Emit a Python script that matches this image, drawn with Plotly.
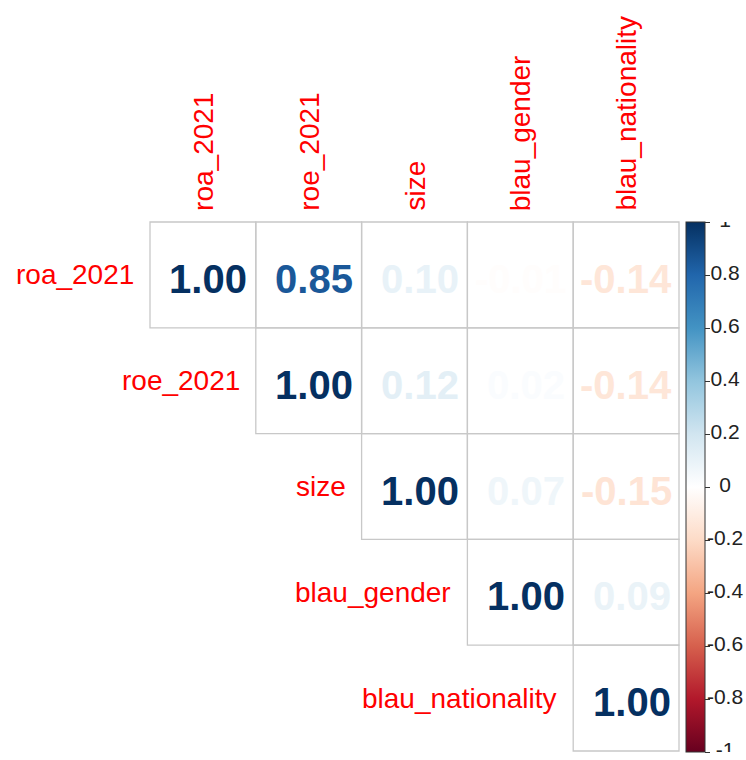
import plotly.graph_objects as go

# ---------------- data ----------------
variables = ["roa_2021", "roe_2021", "size", "blau_gender", "blau_nationality"]
row_roa = [1.00, 0.85, 0.10, -0.01, -0.14]
row_roe = [None, 1.00, 0.12, 0.02, -0.14]
row_size = [None, None, 1.00, 0.07, -0.15]
row_gender = [None, None, None, 1.00, 0.09]
row_nationality = [None, None, None, None, 1.00]
corr_rows = [row_roa, row_roe, row_size, row_gender, row_nationality]

cbar_ticks = [1, 0.8, 0.6, 0.4, 0.2, 0, -0.2, -0.4, -0.6, -0.8, -1]
cbar_labels = ["1", "0.8", "0.6", "0.4", "0.2", "0", "-0.2", "-0.4", "-0.6", "-0.8", "-1"]

# corrplot COL2('RdBu') palette
palette = ["#67001F", "#B2182B", "#D6604D", "#F4A582", "#FDDBC7", "#FFFFFF",
           "#D1E5F0", "#92C5DE", "#4393C3", "#2166AC", "#053061"]

# ---------------- helpers ----------------
n_pal = len(palette)
colorscale = [[k / (n_pal - 1), c] for k, c in enumerate(palette)]


def hex2rgb(h):
    h = h.lstrip("#")
    return tuple(int(h[k:k + 2], 16) for k in (0, 2, 4))


def value_color(v):
    t = (v + 1) / 2 * (n_pal - 1)
    k = min(int(t), n_pal - 2)
    f = t - k
    a, b = hex2rgb(palette[k]), hex2rgb(palette[k + 1])
    r, g, bl = (round(a[m] + (b[m] - a[m]) * f) for m in range(3))
    return f"rgb({r},{g},{bl})"


def fmt(v):
    s = f"{v:.2f}"
    return s if v < 0 else "\u00a0" + s


FONT = "Liberation Sans, Arial, sans-serif"
n = len(variables)

xs, ys, vals = [], [], []
shapes = []
annotations = []
for i, row in enumerate(corr_rows):
    for j, v in enumerate(row):
        if v is None:
            continue
        xs.append(j)
        ys.append(i)
        vals.append(v)
        shapes.append(dict(type="rect", xref="x", yref="y",
                           x0=j - 0.5, x1=j + 0.5, y0=i - 0.5, y1=i + 0.5,
                           line=dict(color="#C8C8C8", width=1.3),
                           fillcolor="rgba(0,0,0,0)", layer="below"))
        annotations.append(dict(
            x=j, y=i, xref="x", yref="y", text=fmt(v), showarrow=False,
            xanchor="center", yanchor="middle", yshift=-4,
            font=dict(family=FONT, size=40, color=value_color(v), weight="bold"),
        ))

fig = go.Figure()

# invisible markers carrying the colour bar
fig.add_trace(go.Scatter(
    x=xs, y=ys, mode="markers",
    marker=dict(size=1, opacity=0, color=vals, colorscale=colorscale,
                cmin=-1, cmax=1, showscale=True,
                colorbar=dict(
                    x=686 / 746, xanchor="left", xpad=0,
                    y=(760 - 222) / 760, yanchor="top", ypad=0,
                    len=(752 - 222) / 760, lenmode="fraction",
                    thickness=19, thicknessmode="pixels",
                    outlinewidth=1, outlinecolor="#333333",
                    tickvals=cbar_ticks, ticks="outside", ticklen=5,
                    tickcolor="#333333", tickwidth=1,
                    showticklabels=False,
                )),
    hoverinfo="skip", showlegend=False,
))

# colour bar tick labels, centred like corrplot
fig.add_trace(go.Scatter(
    x=[0.5] * len(cbar_ticks), y=cbar_ticks, mode="text", text=cbar_labels,
    textposition="middle center",
    textfont=dict(family=FONT, size=21, color="#222222"),
    xaxis="x2", yaxis="y2", hoverinfo="skip", showlegend=False,
))

# row labels (left of the diagonal cell)
for i, name in enumerate(variables):
    annotations.append(dict(
        x=i - 0.5, y=i, xref="x", yref="y", text=name, showarrow=False,
        xanchor="right", yanchor="middle", xshift=-14,
        font=dict(family=FONT, size=28, color="#FF0000"),
    ))
# column labels (rotated, above the top row)
for j, name in enumerate(variables):
    annotations.append(dict(
        x=j, y=-0.5, xref="x", yref="y", text=name, showarrow=False,
        textangle=-90, xanchor="center", yanchor="bottom", yshift=9,
        font=dict(family=FONT, size=28, color="#FF0000"),
    ))

cell = 105.8
x_c0, y_c0 = 150 + cell / 2, 222 + cell / 2

fig.update_layout(
    width=746, height=760,
    margin=dict(l=0, r=0, t=0, b=0),
    paper_bgcolor="white", plot_bgcolor="white",
    xaxis=dict(range=[-x_c0 / cell, (746 - x_c0) / cell], domain=[0, 1],
               visible=False, fixedrange=True),
    yaxis=dict(range=[(760 - y_c0) / cell, -y_c0 / cell], domain=[0, 1],
               visible=False, fixedrange=True),
    xaxis2=dict(range=[0, 1], domain=[705 / 746, 745 / 746], anchor="y2",
                visible=False, fixedrange=True),
    yaxis2=dict(range=[-1, 1], domain=[(760 - 752) / 760, (760 - 222) / 760],
                anchor="x2", visible=False, fixedrange=True),
    shapes=shapes,
    annotations=annotations,
    font=dict(family=FONT),
)

fig.write_html("out.html")
